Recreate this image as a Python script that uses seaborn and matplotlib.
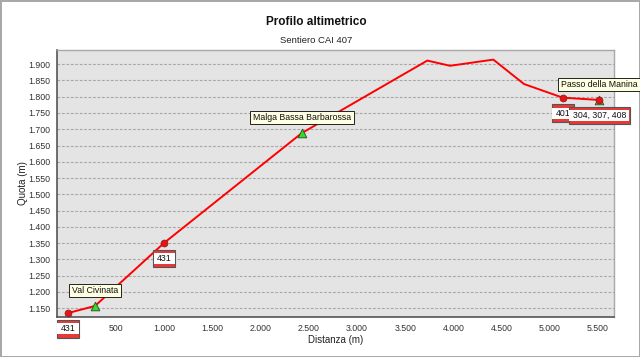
import matplotlib
matplotlib.use("Agg")
import matplotlib.pyplot as plt
from matplotlib.path import Path
from matplotlib.ticker import FuncFormatter
import seaborn as sns
import pandas as pd

# ---- data ----
distance = [0, 282, 1000, 2426, 3729, 3965, 4414, 4732, 5134, 5514]
elevation = [1135, 1157, 1351, 1688, 1911, 1895, 1914, 1839, 1797, 1790]

waypoint_names = ["Val Civinata", "Malga Bassa Barbarossa", "Passo della Manina"]
waypoint_dist = [282, 2426, 5514]
waypoint_elev = [1157, 1688, 1790]

junction_labels = ["431", "431", "401", "304, 307, 408"]
junction_dist = [0, 1000, 5134, 5514]
junction_elev = [1135, 1351, 1797, 1790]

x_ticks = [500, 1000, 1500, 2000, 2500, 3000, 3500, 4000, 4500, 5000, 5500]
y_ticks = list(range(1150, 1901, 50))

title = "Profilo altimetrico"
subtitle = "Sentiero CAI 407"
x_label = "Distanza (m)"
y_label = "Quota (m)"

# ---- style ----
sns.set_style("white")
plt.rcParams["font.family"] = ["Liberation Sans", "DejaVu Sans"]

fig = plt.figure(figsize=(6.4, 3.57), dpi=100)
fig.patch.set_facecolor("white")
fig.patch.set_edgecolor("#a8a8a8")
fig.patch.set_linewidth(2)
ax = fig.add_axes([0.0891, 0.1129, 0.8703, 0.7484])
ax.set_facecolor("#e4e4e4")

profile = pd.DataFrame({"dist": distance, "elev": elevation})
sns.lineplot(data=profile, x="dist", y="elev", ax=ax, color="#ff0000",
             linewidth=1.4, sort=False, zorder=3)

wp = pd.DataFrame({"dist": waypoint_dist, "elev": waypoint_elev, "name": waypoint_names})
jn = pd.DataFrame({"dist": junction_dist, "elev": junction_elev, "label": junction_labels})

sns.scatterplot(data=wp, x="dist", y="elev", ax=ax, marker="^", s=38,
                color="#33dd22", edgecolor="#335533", linewidth=0.7, zorder=4)
sns.scatterplot(data=jn, x="dist", y="elev", ax=ax, marker="o", s=24,
                color="#ee1111", edgecolor="#882222", linewidth=0.6, zorder=9)

ax.set_xlim(-112, 5666)
ax.set_ylim(1124, 1945)
ax.set_xticks(x_ticks)
ax.set_yticks(y_ticks)
fmt = FuncFormatter(lambda v, p: f"{v:,.0f}".replace(",", "."))
ax.xaxis.set_major_formatter(fmt)
ax.yaxis.set_major_formatter(fmt)
ax.tick_params(axis="both", labelsize=6.3, length=3, width=0.7,
               color="#555555", labelcolor="#333333", direction="out", pad=2)
ax.yaxis.grid(True, linestyle=(0, (2.5, 1.5)), color="#a8a8a8", linewidth=0.8)
ax.xaxis.grid(False)
ax.set_axisbelow(True)
for s in ["left", "bottom"]:
    ax.spines[s].set_color("#555555")
    ax.spines[s].set_linewidth(1.2)
for s in ["top", "right"]:
    ax.spines[s].set_color("#a8a8a8")
    ax.spines[s].set_linewidth(1.0)

ax.set_xlabel(x_label, fontsize=7, color="#222222", labelpad=2)
ax.set_ylabel(y_label, fontsize=7, color="#222222", labelpad=0)

fig.text(0.494, 0.937, title, ha="center", va="center", fontsize=8.5,
         fontweight="bold", color="#111111")
fig.text(0.494, 0.887, subtitle, ha="center", va="center", fontsize=6.8,
         color="#222222")


def padded_box(px, py):
    def style(x0, y0, width, height, mutation_size):
        padx = px * mutation_size
        pady = py * mutation_size
        x0 -= padx
        y0 -= pady
        w = width + 2 * padx
        h = height + 2 * pady
        return Path([(x0, y0), (x0 + w, y0), (x0 + w, y0 + h), (x0, y0 + h), (x0, y0)],
                    closed=True)
    return style


# waypoint tooltips
for name, d, e in zip(waypoint_names, waypoint_dist, waypoint_elev):
    ax.annotate(name, (d, e), xytext=(0, 8), textcoords="offset points",
                ha="center", va="bottom", fontsize=6.3, color="#111111",
                bbox=dict(boxstyle=padded_box(0.35, 0.25), facecolor="#ffffe1",
                          edgecolor="#222222", linewidth=0.7),
                annotation_clip=False, zorder=7)

# route number labels (red-white-red)
for lab, d, e in zip(junction_labels, junction_dist, junction_elev):
    ax.annotate(lab, (d, e), xytext=(0, -8), textcoords="offset points",
                ha="center", va="top", fontsize=6.3, color="#e83838",
                bbox=dict(boxstyle=padded_box(0.4, 0.5), facecolor="#e83838",
                          edgecolor="#555555", linewidth=0.8),
                annotation_clip=False, zorder=8)
    ax.annotate(lab, (d, e), xytext=(0, -8), textcoords="offset points",
                ha="center", va="top", fontsize=6.3, color="#111111",
                bbox=dict(boxstyle=padded_box(0.38, 0.1), facecolor="white",
                          edgecolor="none", linewidth=0),
                annotation_clip=False, zorder=8)

fig.savefig("out.png", dpi=100, facecolor=fig.get_facecolor(),
            edgecolor=fig.get_edgecolor())
